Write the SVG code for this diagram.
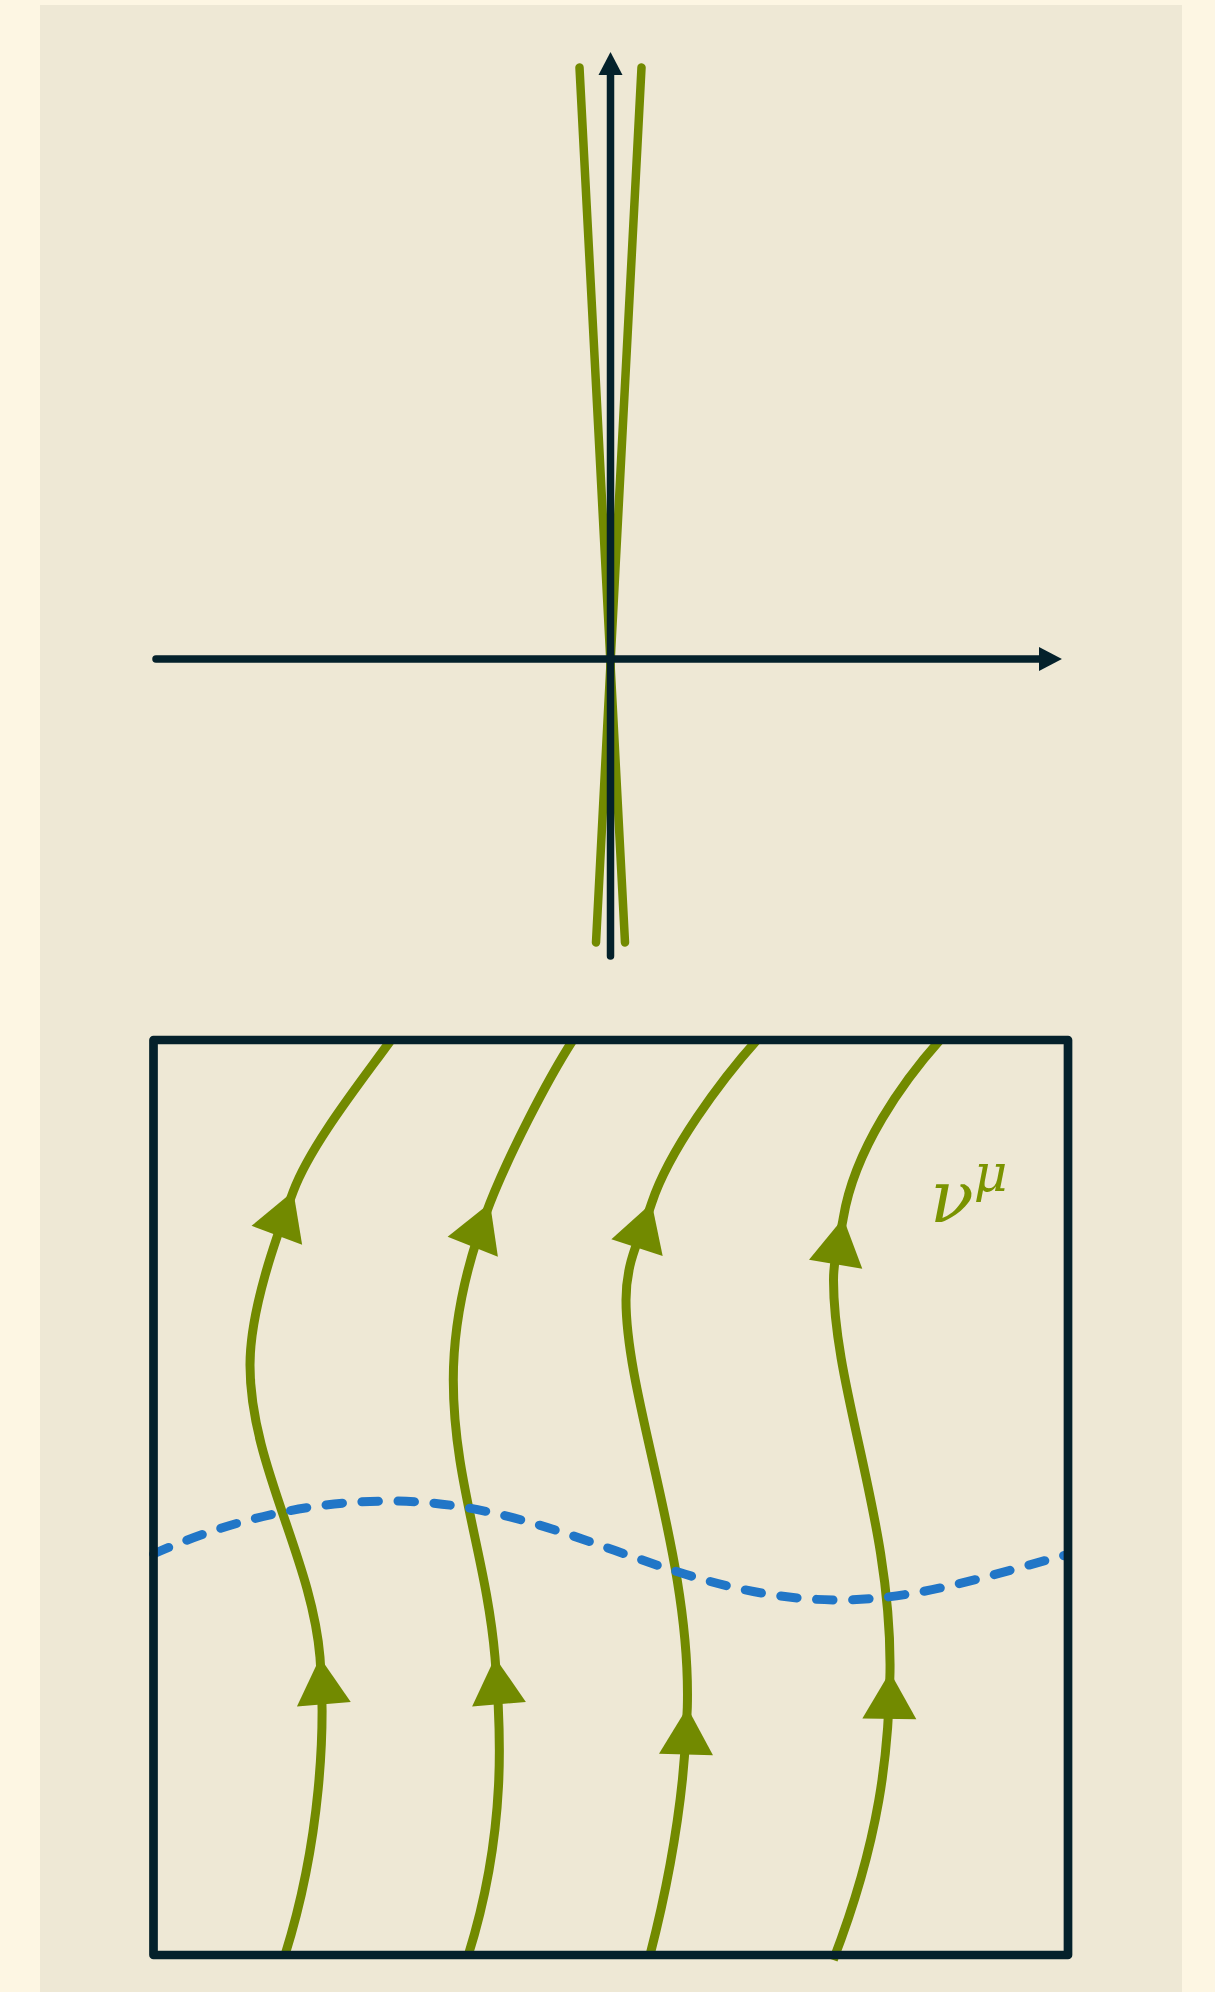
<svg xmlns="http://www.w3.org/2000/svg" xmlns:xlink="http://www.w3.org/1999/xlink" width="1215" height="1992" viewBox="0 0 1215 1992">
  <style>
    .axis { fill: none; stroke: #04212b; stroke-width: 7.5; stroke-linecap: round; }
    .cone { fill: none; stroke: #728a00; stroke-width: 8.5; stroke-linecap: round; }
    .field { fill: none; stroke: #728a00; stroke-width: 9; stroke-linecap: butt; }
    .head { fill: #728a00; stroke: none; }
    .wave { fill: none; stroke: #2176c7; stroke-width: 9; stroke-linecap: round; stroke-dasharray: 16.5 19.5; }
    .box { fill: none; stroke: #04212b; stroke-width: 8.7; stroke-linejoin: round; }
    .label { font-family: "DejaVu Serif", "Liberation Serif", serif; font-style: italic; fill: #7a9300; }
  </style>
  <defs>
    <marker id="axhead" markerUnits="userSpaceOnUse" markerWidth="24" markerHeight="24" refX="0" refY="11.5" orient="auto" viewBox="0 0 22 23" overflow="visible">
      <path d="M0,0 L22,11.5 L0,23 Z" fill="#04212b"/>
    </marker>
    <path id="tri" d="M0,0 L-47,-27 L-47,27 Z"/>
  </defs>

  <rect x="0" y="0" width="1215" height="1992" fill="#fdf6e3"/>
  <rect x="40" y="5" width="1142" height="1987" fill="#eee8d5"/>

  <g id="light-cone">
    <line class="cone" x1="579.5" y1="67.5" x2="625" y2="942.5"/>
    <line class="cone" x1="641.5" y1="67.5" x2="596" y2="942.5"/>
  </g>

  <g id="axes">
    <line id="x-axis" class="axis" x1="156" y1="659" x2="1039" y2="659" marker-end="url(#axhead)"/>
    <line id="y-axis" class="axis" x1="610.5" y1="956" x2="610.5" y2="75" marker-end="url(#axhead)"/>
  </g>

  <g id="field-lines">
    <g id="line1">
      <path class="field" d="M285,1955 C321,1840.5 325.7,1727.2 320,1657.4 C311.8,1557.7 250,1465 250,1365 C250,1310 275.85,1238.2 293.3,1191.3 C310.8,1144.5 361.8,1080.6 391,1040"/>
      <use xlink:href="#tri" class="head" transform="translate(320,1657.4) rotate(-94.7)"/>
      <use xlink:href="#tri" class="head" transform="translate(293.3,1191.3) rotate(-69.5)"/>
    </g>
    <g id="line2">
      <path class="field" d="M468.3,1955 C507.3,1831 500.95,1727.1 495,1657.4 C486.5,1557.8 453.3,1480 453.3,1380 C453.3,1310 473.5,1244.9 490,1203 C508.3,1156.5 546,1082 573,1040"/>
      <use xlink:href="#tri" class="head" transform="translate(495,1657.4) rotate(-94.9)"/>
      <use xlink:href="#tri" class="head" transform="translate(490,1203) rotate(-68.5)"/>
    </g>
    <g id="line3">
      <path class="field" d="M650,1955 C675,1858.2 685.3,1777.6 687.3,1707.6 C691.5,1557.6 626,1400 626,1300 C626,1260 640.8,1236.25 651.7,1203 C668.9,1150.75 720.3,1081 757,1040"/>
      <use xlink:href="#tri" class="head" transform="translate(687.3,1707.6) rotate(-88.4)"/>
      <use xlink:href="#tri" class="head" transform="translate(651.7,1203) rotate(-71.8)"/>
    </g>
    <g id="line4">
      <path class="field" d="M833.3,1960 C880.1,1838.7 888.9,1752 890,1672 C892.1,1522 833.5,1390 833.5,1280 C833.5,1255 840,1237.6 843.3,1217.9 C854.7,1148.8 903.4,1081 940,1040"/>
      <use xlink:href="#tri" class="head" transform="translate(890,1672) rotate(-89.2)"/>
      <use xlink:href="#tri" class="head" transform="translate(843.3,1217.9) rotate(-80.6)"/>
    </g>
  </g>

  <g id="surface">
    <path class="wave" d="M153.5,1554 C230,1520 310,1501 390,1501 C560,1501 670,1600 840,1600 C920,1600 1000,1572 1066,1555"/>
  </g>

  <g id="box">
    <rect class="box" x="153.5" y="1040" width="914.5" height="915"/>
  </g>

  <g id="label">
    <text class="label" x="930" y="1222" font-size="72">ν<tspan font-size="52" dy="-31">μ</tspan></text>
  </g>
</svg>
